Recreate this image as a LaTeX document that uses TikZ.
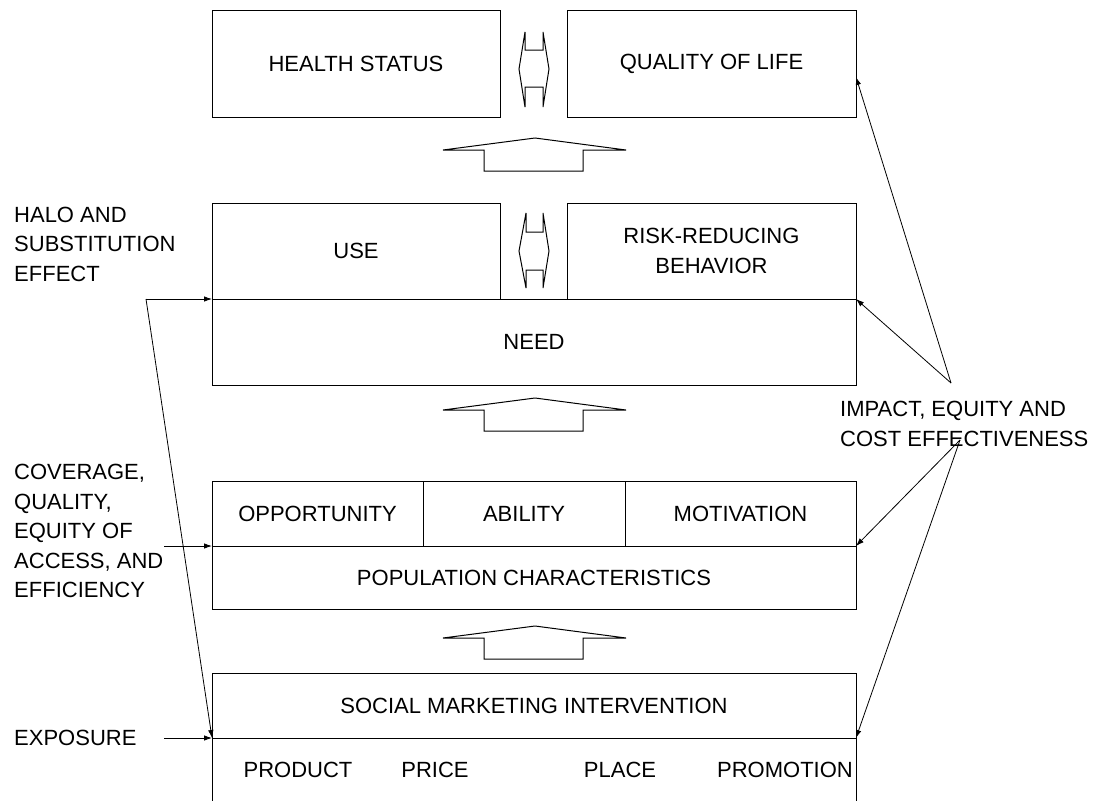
\documentclass[tikz,border=0pt]{standalone}
\usepackage{fontspec}
\setmainfont{Liberation Sans}
\usetikzlibrary{arrows.meta}
\begin{document}
\begin{tikzpicture}[x=1pt,y=-1pt,
  txt/.style={font=\fontsize{22}{29.5}\selectfont},
  box/.style={draw, line width=1pt, rectangle, inner sep=0pt, outer sep=0pt, txt, align=center},
  lbl/.style={txt, align=left, anchor=west, inner sep=0pt},
  blockarrow/.style={draw, line width=1pt, line join=miter},
  link/.style={line width=0.8pt, -{Latex[length=8pt,width=5.5pt]}}
]
\useasboundingbox (0,0) rectangle (1096,801);

% top level
\node[box, minimum width=288, minimum height=107] (hs) at (356,63.5) {HEALTH STATUS};
\node[box, minimum width=289, minimum height=107] (ql) at (711.5,63.5) {QUALITY OF LIFE};
\draw[blockarrow] (525,32) -- (525,50) -- (543,50) -- (543,32) -- (549,69) -- (543,107)
  -- (543,87) -- (525,87) -- (525,107) -- (519,69) -- cycle;

% up arrow 1
\draw[blockarrow] (443,150) -- (535,138) -- (626,150) -- (583,150) -- (583,171)
  -- (484,171) -- (484,150) -- cycle;

% use / behaviour / need
\node[box, minimum width=288, minimum height=96] (use) at (356,251) {USE};
\node[box, minimum width=289, minimum height=96] (risk) at (711.5,251) {RISK-REDUCING\\BEHAVIOR};
\draw[blockarrow] (526,213) -- (526,232) -- (543,232) -- (543,213) -- (549,251) -- (543,288)
  -- (543,270) -- (526,270) -- (526,288) -- (519,251) -- cycle;
\node[box, minimum width=644, minimum height=86] (need) at (534,342) {NEED};

% up arrow 2
\draw[blockarrow] (443,410) -- (535,398) -- (626,410) -- (583,410) -- (583,431)
  -- (484,431) -- (484,410) -- cycle;

% population level
\node[box, minimum width=211, minimum height=65] (opp) at (317.5,513.5) {OPPORTUNITY};
\node[box, minimum width=202, minimum height=65] (abi) at (524,513.5) {ABILITY};
\node[box, minimum width=231, minimum height=65] (mot) at (740.5,513.5) {\raisebox{-5pt}{MOTIVATION}};
\node[box, minimum width=644, minimum height=63] (pop) at (534,577.5) {POPULATION CHARACTERISTICS};

% up arrow 3
\draw[blockarrow] (443,638) -- (535,626) -- (626,638) -- (583,638) -- (583,659)
  -- (484,659) -- (484,638) -- cycle;

% intervention
\node[box, minimum width=644, minimum height=65] (soc) at (534,705.5) {SOCIAL MARKETING INTERVENTION};
\coordinate (bl) at (212,801);
\coordinate (br) at (856,801);
\draw[line width=1pt] (soc.south west) -- (bl);
\draw[line width=1pt] (soc.south east) -- (br);
\node[txt, inner sep=0pt] (prod) at (298,770) {PRODUCT};
\node[txt, inner sep=0pt] (price) at (435,770) {PRICE};
\node[txt, inner sep=0pt] (place) at (620,770) {PLACE};
\node[txt, inner sep=0pt] (promo) at (785,770) {PROMOTION};

% left-hand labels
\node[lbl] (halo) at (14,244) {HALO AND\\SUBSTITUTION\\EFFECT};
\node[lbl] (cov) at (14,531) {COVERAGE,\\QUALITY,\\EQUITY OF\\ACCESS, AND\\EFFICIENCY};
\node[lbl] (expo) at (14,738) {EXPOSURE};
\coordinate (haloend) at (146,299);
\coordinate (covend) at (164,546);
\coordinate (expoend) at (164,738);
\draw[link] (haloend) -- (use.south west);
\draw[link] (haloend) -- (soc.south west);
\draw[link] (covend) -- (opp.south west);
\draw[link] (expoend) -- (soc.south west);

% right-hand label
\node[lbl] (imp) at (840,424) {IMPACT, EQUITY AND\\COST EFFECTIVENESS};
\coordinate (imptop) at (951,383);
\coordinate (impbot) at (960,440);
\coordinate (qlhit) at (856,77);
\draw[link] (imptop) -- (qlhit);
\draw[link] (imptop) -- (need.north east);
\draw[link] (impbot) -- (pop.north east);
\draw[link] (impbot) -- (soc.south east);
\end{tikzpicture}
\end{document}
